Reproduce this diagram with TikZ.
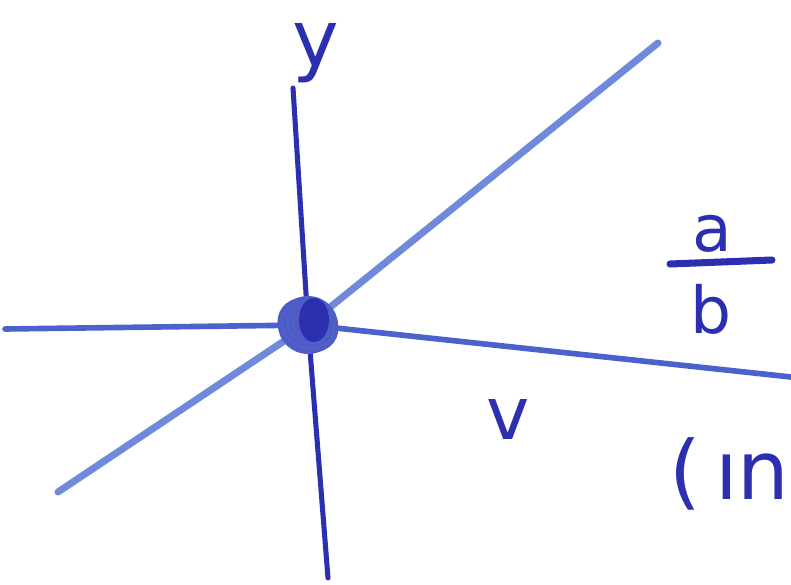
\documentclass[tikz,border=0pt]{standalone}
\usepackage{fontspec}
\setmainfont{DejaVu Sans}
\definecolor{inkdark}{HTML}{2B2FB0}
\definecolor{inkmid}{HTML}{4A62CC}
\definecolor{inklight}{HTML}{6F8ADB}
\begin{document}
\begin{tikzpicture}[x=0.025cm, y=-0.025cm, line cap=round,
    every node/.style={inkdark, inner sep=0pt}]

    % 画面の範囲 (791 x 585)
    \useasboundingbox (0,0) rectangle (791,585);

    % 原点
    \coordinate (O) at (308,325);

    % 座標軸
    \draw[inkdark, line width=3.6pt] (293,88) -- (O) -- (328,578);
    \draw[inkmid, line width=4pt] (5,329) -- (O) -- (791,377);

    % 原点を通る直線
    \draw[inklight, line width=5pt] (58,492) -- (O) -- (658,43);

    % 原点の塗りつぶし
    \fill[inkmid] (O) ellipse (30 and 29);
    \foreach \r in {30,24,18,12}
        \draw[inkdark!80, line width=1.8pt, rotate around={-25:(O)}] (O) ellipse ({\r} and {\r*0.85});
    \fill[inkdark] (314,320) ellipse (15 and 22);

    % ラベル
    \node[anchor=base] (ylabel) at (316,66) {\fontsize{56}{64}\selectfont y};
    \node (alabel) at (712,234) {\fontsize{46}{54}\selectfont a};
    \node (blabel) at (711,309) {\fontsize{46}{54}\selectfont b};
    \draw[inkdark, line width=5pt] (670,264) -- (772,260);
    \node (vlabel) at (508,420) {\fontsize{52}{60}\selectfont v};
    \node[anchor=east] (lin) at (790,474) {\fontsize{58}{66}\selectfont (\,\i n};

\end{tikzpicture}
\end{document}
